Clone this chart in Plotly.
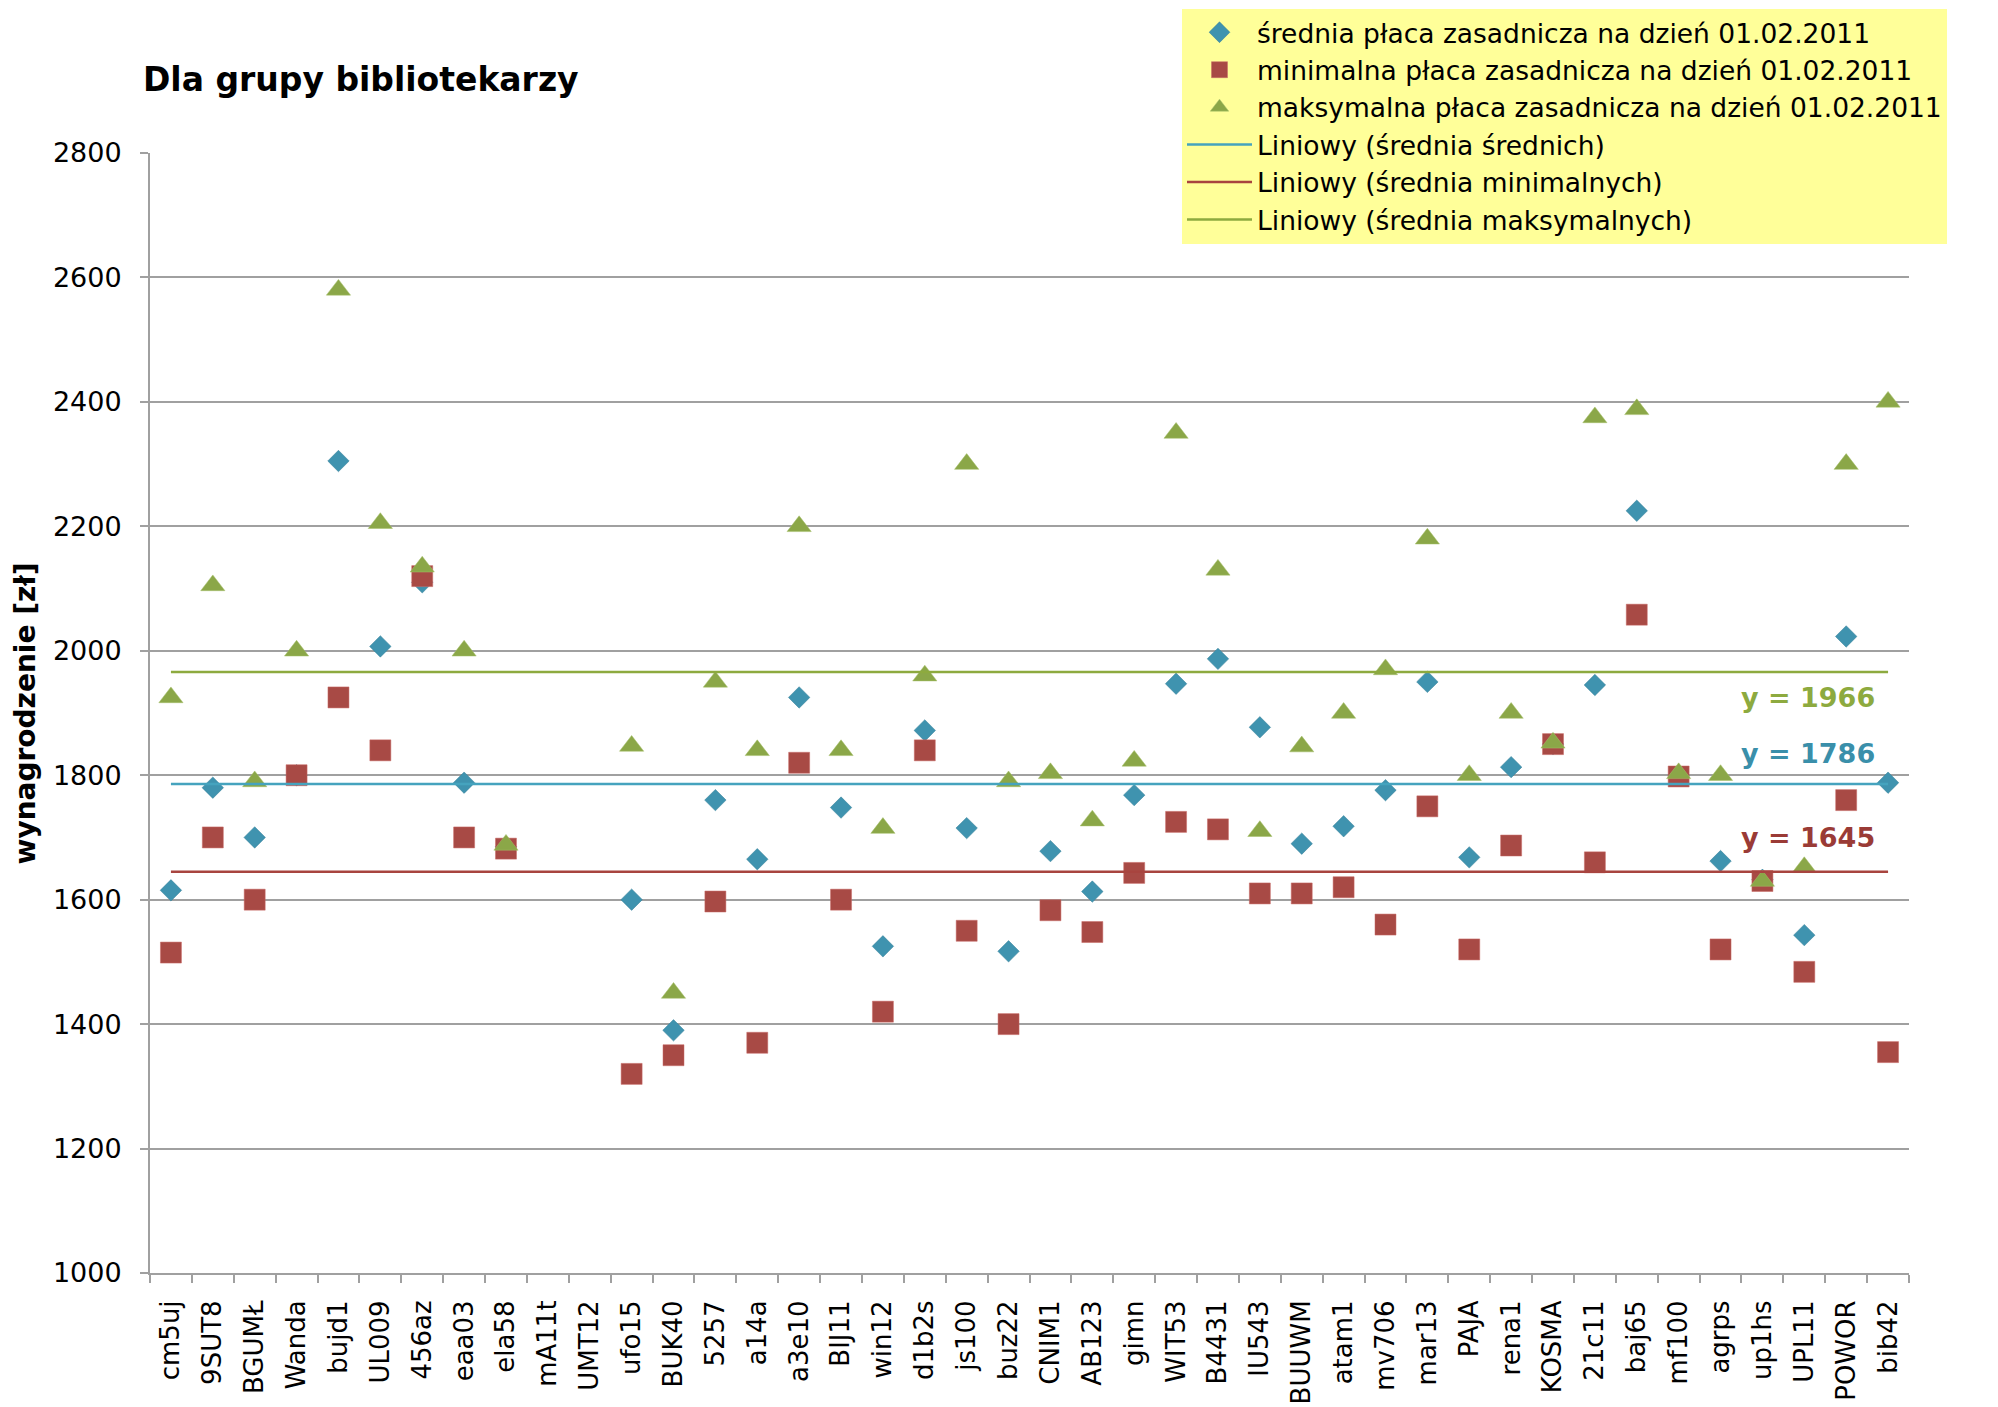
import plotly.graph_objects as go

categories = ["cm5uj", "9SUT8", "BGUMŁ", "Wanda", "bujd1", "UL009", "456az", "eaa03", "ela58",
              "mA11t", "UMT12", "ufo15", "BUK40", "5257", "a14a", "a3e10", "BIJ11", "win12",
              "d1b2s", "js100", "buz22", "CNIM1", "AB123", "gimn", "WIT53", "B4431", "IU543",
              "BUUWM", "atam1", "mv706", "mar13", "PAJA", "rena1", "KOSMA", "21c11", "baj65",
              "mf100", "agrps", "up1hs", "UPL11", "POWOR", "bib42"]

avg_pay = [1615, 1780, 1700, 1800, 2305, 2007, 2110, 1788, 1685, None, None, 1600, 1390, 1760,
           1665, 1925, 1748, 1525, 1872, 1715, 1517, 1678, 1613, 1768, 1947, 1987, 1877, 1690,
           1718, 1776, 1950, 1668, 1813, 1850, 1945, 2225, 1800, 1662, 1632, 1543, 2023, 1788]

min_pay = [1515, 1700, 1600, 1800, 1925, 1840, 2120, 1700, 1682, None, None, 1320, 1350, 1597,
           1370, 1820, 1600, 1420, 1840, 1550, 1400, 1583, 1548, 1643, 1725, 1713, 1610, 1610,
           1620, 1560, 1750, 1520, 1687, 1850, 1660, 2058, 1798, 1520, 1630, 1484, 1760, 1355]

max_pay = [1925, 2105, 1790, 2000, 2580, 2205, 2135, 2000, 1688, None, None, 1847, 1450, 1950,
           1840, 2200, 1840, 1715, 1960, 2300, 1790, 1803, 1727, 1823, 2350, 2130, 1710, 1846,
           1900, 1970, 2180, 1800, 1900, 1852, 2375, 2388, 1803, 1800, 1630, 1652, 2300, 2400]

trend_avg = 1786
trend_min = 1645
trend_max = 1966

series_names = ["średnia płaca zasadnicza na dzień 01.02.2011",
                "minimalna płaca zasadnicza na dzień 01.02.2011",
                "maksymalna płaca zasadnicza na dzień 01.02.2011"]
trend_names = ["Liniowy (średnia średnich)",
               "Liniowy (średnia minimalnych)",
               "Liniowy (średnia maksymalnych)"]

y_ticks = [1000, 1200, 1400, 1600, 1800, 2000, 2200, 2400, 2600, 2800]

FONT = "DejaVu Sans"
C_BLUE_M, C_RED_M, C_GREEN_M = "#3F93AF", "#A84A45", "#8BA748"
C_BLUE_L, C_RED_L, C_GREEN_L = "#45A3BE", "#A8443F", "#8DAA3F"

fig = go.Figure()
fig.add_trace(go.Scatter(x=categories, y=avg_pay, mode="markers", name=series_names[0],
                         marker=dict(symbol="diamond", size=16.5, color=C_BLUE_M,
                                     line=dict(width=0.5, color="#357E97"))))
fig.add_trace(go.Scatter(x=categories, y=min_pay, mode="markers", name=series_names[1],
                         marker=dict(symbol="square", size=21, color=C_RED_M,
                                     line=dict(width=0.5, color="#C86A66"))))
fig.add_trace(go.Scatter(x=categories, y=max_pay, mode="markers", name=series_names[2],
                         marker=dict(symbol="triangle-up", size=21, color=C_GREEN_M,
                                     line=dict(width=0.5, color="#A4BE68"))))

for name, val, col in zip(trend_names, [trend_avg, trend_min, trend_max],
                          [C_BLUE_L, C_RED_L, C_GREEN_L]):
    fig.add_trace(go.Scatter(x=[categories[0], categories[-1]], y=[val, val], mode="lines",
                             name=name, line=dict(color=col, width=2.5)))

label_offsets = {trend_max: -41, trend_avg: 49, trend_min: 55}
for val, col in [(trend_max, C_GREEN_L), (trend_avg, "#3A8FAA"), (trend_min, "#9A3B36")]:
    fig.add_annotation(xref="paper", yref="y", x=0.982, y=val + label_offsets[val],
                       xanchor="right", yanchor="middle", showarrow=False,
                       text=f"y = {val}", font=dict(family=FONT, size=27, color=col, weight="bold"))

fig.add_annotation(xref="paper", yref="paper", x=-0.0708, y=0.5, xanchor="center",
                   yanchor="middle", textangle=-90, showarrow=False,
                   text="wynagrodzenie [zł]", font=dict(family=FONT, size=28, color="black",
                                                         weight="bold"))

fig.update_layout(
    width=1990, height=1399,
    margin=dict(l=142, r=89, t=144.5, b=134, autoexpand=False),
    paper_bgcolor="white", plot_bgcolor="white",
    font=dict(family=FONT, size=27, color="black"),
    title=dict(text="<b>Dla grupy bibliotekarzy</b>", x=0.0678, xref="container",
               xanchor="left", y=0.9492, yref="container", yanchor="middle",
               font=dict(family=FONT, size=33, color="black")),
    showlegend=True,
    legend=dict(x=0.5867, y=1.129, xanchor="left", yanchor="top", bgcolor="#FFFF99",
                borderwidth=0, font=dict(family=FONT, size=26.5, color="black"),
                itemwidth=65, tracegroupgap=0, itemsizing="trace"),
)

fig.update_xaxes(type="category", categoryorder="array", categoryarray=categories,
                 range=[-0.5, len(categories) - 0.5], showgrid=False, zeroline=False,
                 showline=True, linecolor="#A0A0A0", linewidth=2, automargin=False,
                 ticks="outside", tickson="boundaries", ticklen=8, tickcolor="#A0A0A0",
                 tickwidth=2, tickangle=-90, ticklabelstandoff=15,
                 tickfont=dict(family=FONT, size=26, color="black"))
fig.update_yaxes(range=[1000, 2800], tickvals=y_ticks, showgrid=True, gridcolor="#A0A0A0",
                 gridwidth=2, zeroline=False, showline=True, linecolor="#A0A0A0", linewidth=2,
                 automargin=False,
                 ticks="outside", ticklen=8, tickcolor="#A0A0A0", tickwidth=2,
                 ticklabelstandoff=13, tickfont=dict(family=FONT, size=27, color="black"))

fig.write_html("out.html")
